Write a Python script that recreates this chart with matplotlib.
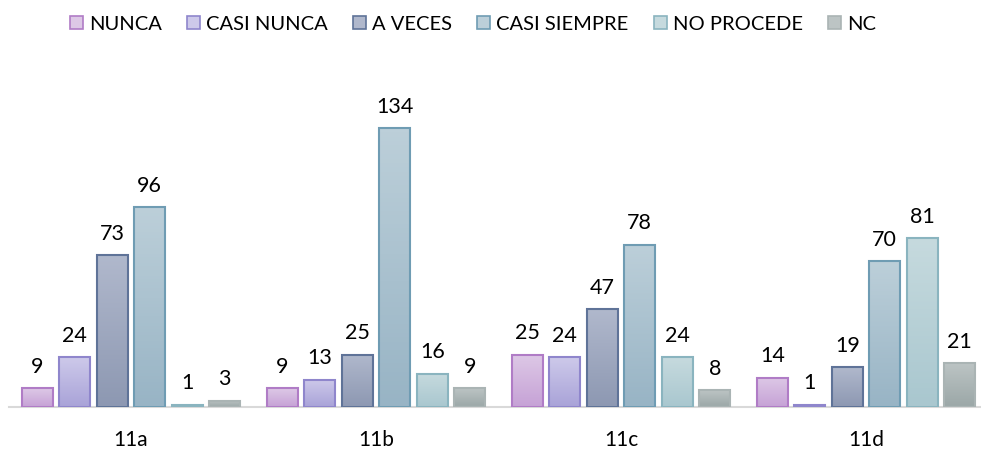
import numpy as np
import matplotlib
matplotlib.use("Agg")
import matplotlib.pyplot as plt
from matplotlib.colors import LinearSegmentedColormap
from matplotlib.patches import Patch

plt.rcParams['font.family'] = ['Lato', 'DejaVu Sans']

categories = ['11a', '11b', '11c', '11d']
series = ['NUNCA', 'CASI NUNCA', 'A VECES', 'CASI SIEMPRE', 'NO PROCEDE', 'NC']
nunca = [9, 9, 25, 14]
casi_nunca = [24, 13, 24, 1]
a_veces = [73, 25, 47, 19]
casi_siempre = [96, 134, 78, 70]
no_procede = [1, 16, 24, 81]
nc = [3, 9, 8, 21]
values = [nunca, casi_nunca, a_veces, casi_siempre, no_procede, nc]

tops = ['#ddc8e6', '#cdc9ea', '#b0b8cc', '#bccfd9', '#c6dade', '#bcc4c4']
bottoms = ['#c6a2d6', '#a9a3d8', '#8d98b2', '#98b4c5', '#a9c7cf', '#9ba7a7']
edges = ['#b07cc6', '#8f86cc', '#5f7398', '#6f9cb3', '#8ab4bf', '#aab4b4']

fig = plt.figure(figsize=(9.81, 4.52), dpi=100)
ax = fig.add_axes([8.5/981, 1 - 408/452, 980/981, 333/452])

x = np.arange(len(categories))
step = 0.153
width = 0.127
ymax = 160
for i, (s, vals) in enumerate(zip(series, values)):
    pos = x + (i - 2.5) * step
    bars = ax.bar(pos, vals, width, color='none', edgecolor=edges[i], linewidth=1.5, zorder=3)
    cmap = LinearSegmentedColormap.from_list('g%d' % i, [bottoms[i], tops[i]])
    for b, v in zip(bars, vals):
        x0 = b.get_x()
        grad = np.linspace(0, 1, 64).reshape(-1, 1)
        im = ax.imshow(grad, cmap=cmap, origin='lower', aspect='auto',
                       extent=[x0, x0 + width, 0, max(v, 0.5)], zorder=2)
        im.set_clip_path(b)
        ax.annotate(str(v), (b.get_x() + width / 2, v), xytext=(0, 9),
                    textcoords='offset points', ha='center', va='bottom',
                    fontsize=15.5, color='#000000')

ax.set_xlim(-0.5, 3.5)
ax.set_ylim(0, ymax)
ax.set_xticks(x)
ax.set_xticklabels(categories, fontsize=15)
ax.tick_params(axis='x', length=0, pad=16)
ax.set_yticks([])
for sp in ['top', 'right', 'left']:
    ax.spines[sp].set_visible(False)
ax.spines['bottom'].set_color('#d9d9d9')
ax.spines['bottom'].set_linewidth(1.5)

handles = [Patch(facecolor=tops[i], edgecolor=edges[i], linewidth=1.2, label=s) for i, s in enumerate(series)]
fig.legend(handles=handles, loc='upper center', bbox_to_anchor=(0.482, 0.995), ncol=6,
           frameon=False, fontsize=14.5, handlelength=0.65, handleheight=0.65,
           handletextpad=0.3, columnspacing=1.25, borderaxespad=0.3)

fig.savefig('out.png', dpi=100)
